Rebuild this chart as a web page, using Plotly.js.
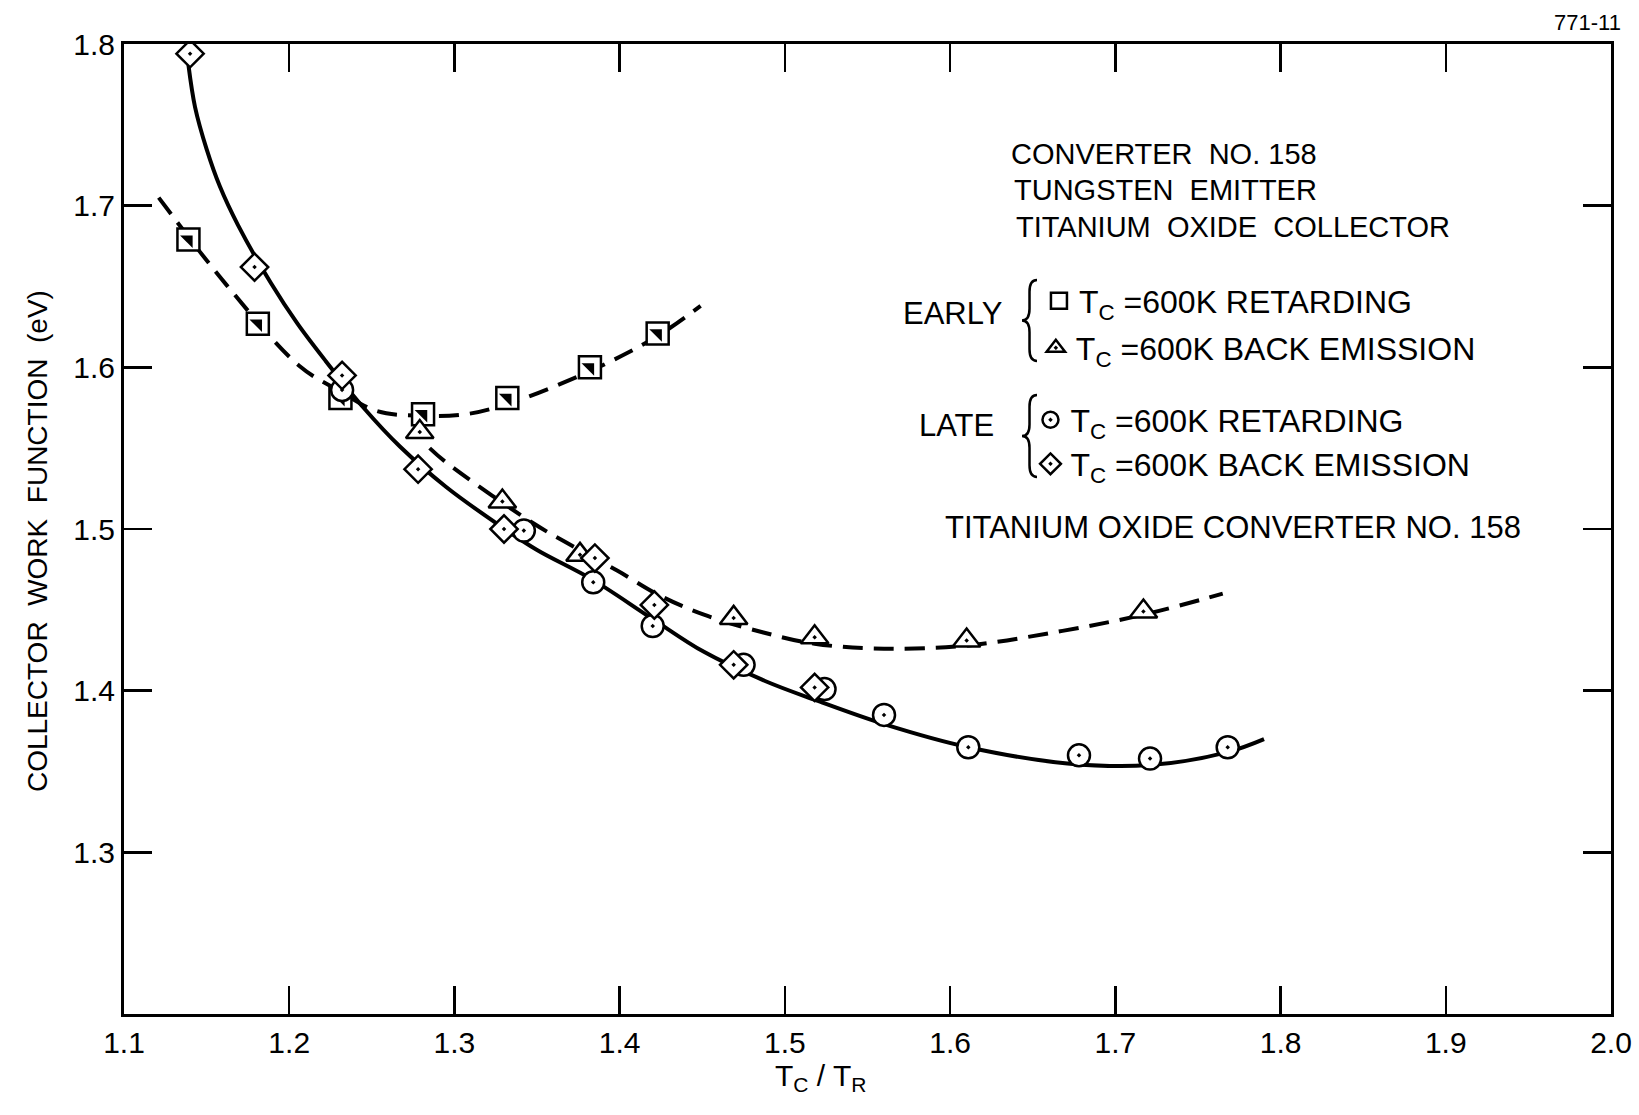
<!DOCTYPE html>
<html>
<head>
<meta charset="utf-8">
<script src="https://cdn.plot.ly/plotly-3.0.1.min.js"></script>
<style>
  html, body { margin: 0; padding: 0; background: #ffffff; }
  #chart { width: 1639px; height: 1115px; }
</style>
</head>
<body>
<div id="chart"></div>
<script>
// ---- Data (x = Tc/Tr, y = collector work function, eV) ----
// EARLY, Tc = 600K retarding (half-filled squares)
const earlyRetX = [1.139, 1.181, 1.231, 1.281, 1.332, 1.382, 1.423];
const earlyRetY = [1.679, 1.627, 1.581, 1.571, 1.581, 1.600, 1.621];
// EARLY, Tc = 600K back emission (triangles)
const earlyBEX = [1.279, 1.329, 1.376, 1.469, 1.518, 1.610, 1.717];
const earlyBEY = [1.560, 1.517, 1.484, 1.445, 1.433, 1.431, 1.449];
// LATE, Tc = 600K retarding (circles)
const lateRetX = [1.232, 1.342, 1.384, 1.420, 1.475, 1.524, 1.560, 1.611, 1.678, 1.721, 1.768];
const lateRetY = [1.586, 1.499, 1.467, 1.440, 1.416, 1.401, 1.385, 1.365, 1.360, 1.358, 1.365];
// LATE, Tc = 600K back emission (diamonds)
const lateBEX = [1.140, 1.179, 1.232, 1.278, 1.330, 1.385, 1.421, 1.469, 1.518];
const lateBEY = [1.794, 1.662, 1.595, 1.537, 1.500, 1.482, 1.453, 1.416, 1.402];

// Hand-drawn curves
const earlyRetCurveX = [1.121, 1.162, 1.206, 1.231, 1.253, 1.280, 1.307, 1.334, 1.374, 1.401, 1.424, 1.449];
const earlyRetCurveY = [1.705, 1.651, 1.601, 1.585, 1.573, 1.570, 1.571, 1.578, 1.594, 1.607, 1.620, 1.638];
const earlyBECurveX = [1.285, 1.294, 1.347, 1.374, 1.399, 1.424, 1.451, 1.487, 1.518, 1.560, 1.611, 1.668, 1.717, 1.765];
const earlyBECurveY = [1.550, 1.542, 1.504, 1.488, 1.474, 1.459, 1.447, 1.436, 1.429, 1.426, 1.428, 1.437, 1.447, 1.460];
const lateCurveX = [1.139, 1.143, 1.150, 1.158, 1.169, 1.189, 1.205, 1.222, 1.245, 1.267, 1.295, 1.329, 1.350, 1.383, 1.419, 1.451, 1.488, 1.519, 1.561, 1.611, 1.671, 1.721, 1.768, 1.790];
const lateCurveY = [1.787, 1.761, 1.735, 1.712, 1.688, 1.652, 1.627, 1.604, 1.575, 1.551, 1.526, 1.501, 1.487, 1.469, 1.445, 1.424, 1.406, 1.394, 1.379, 1.365, 1.355, 1.354, 1.362, 1.370];

// Axis ticks and text
const xTicks = [1.1, 1.2, 1.3, 1.4, 1.5, 1.6, 1.7, 1.8, 1.9, 2.0];
const xTickText = ['1.1', '1.2', '1.3', '1.4', '1.5', '1.6', '1.7', '1.8', '1.9', '2.0'];
const yTicks = [1.3, 1.4, 1.5, 1.6, 1.7, 1.8];
const yTickText = ['1.3', '1.4', '1.5', '1.6', '1.7', '1.8'];
const legendLabels = [
  'T<sub>C</sub> =600K RETARDING',
  'T<sub>C</sub> =600K BACK EMISSION',
  'T<sub>C</sub> =600K RETARDING',
  'T<sub>C</sub> =600K BACK EMISSION'
];
const headerLines = ['CONVERTER  NO. 158', 'TUNGSTEN  EMITTER', 'TITANIUM  OXIDE  COLLECTOR'];

const FONT = 'Liberation Sans, Arial, Helvetica, sans-serif';
const INK = '#000000';

const curveBase = { type: 'scatter', mode: 'lines', hoverinfo: 'skip', showlegend: false };
const traces = [
  Object.assign({}, curveBase, { x: earlyRetCurveX, y: earlyRetCurveY,
    line: { color: INK, width: 4, dash: '20px,11px', shape: 'spline', smoothing: 1 } }),
  Object.assign({}, curveBase, { x: earlyBECurveX, y: earlyBECurveY,
    line: { color: INK, width: 4, dash: '20px,11px', shape: 'spline', smoothing: 1 } }),
  Object.assign({}, curveBase, { x: lateCurveX, y: lateCurveY,
    line: { color: INK, width: 4, shape: 'spline', smoothing: 1 } }),
  // EARLY retarding: white square with black upper-right half
  { type: 'scatter', mode: 'markers', x: earlyRetX, y: earlyRetY, name: legendLabels[0], legend: 'legend',
    marker: { symbol: 'square', size: 22, color: '#ffffff', line: { color: INK, width: 2.5 } } },
  { type: 'scatter', mode: 'markers', x: earlyRetX, y: earlyRetY, showlegend: false,
    marker: { symbol: 'triangle-ne', size: 14, color: INK, line: { width: 0 } } },
  { type: 'scatter', mode: 'markers', x: earlyBEX, y: earlyBEY, name: legendLabels[1], legend: 'legend2',
    marker: { symbol: 'triangle-up-dot', size: 24, color: '#ffffff', line: { color: INK, width: 2.5 } } },
  { type: 'scatter', mode: 'markers', x: lateRetX, y: lateRetY, name: legendLabels[2], legend: 'legend3',
    marker: { symbol: 'circle-dot', size: 22, color: '#ffffff', line: { color: INK, width: 2.5 } } },
  { type: 'scatter', mode: 'markers', x: lateBEX, y: lateBEY, name: legendLabels[3], legend: 'legend4',
    marker: { symbol: 'diamond-dot', size: 21, color: '#ffffff', line: { color: INK, width: 2.5 } } }
];

function legendAt(x, y) {
  return { x: x, y: y, xanchor: 'left', yanchor: 'middle', bgcolor: 'rgba(0,0,0,0)', borderwidth: 0,
           font: { family: FONT, size: 32, color: INK }, itemwidth: 30, itemclick: false, itemdoubleclick: false };
}

function brace(xl, xr, yt, yb) {
  const xm = (xl + xr) / 2, ym = (yt + yb) / 2, d = 0.012;
  return 'M' + xr + ',' + yt + ' Q' + xm + ',' + yt + ' ' + xm + ',' + (yt - d) +
         ' L' + xm + ',' + (ym + d) + ' Q' + xm + ',' + ym + ' ' + xl + ',' + ym +
         ' Q' + xm + ',' + ym + ' ' + xm + ',' + (ym - d) +
         ' L' + xm + ',' + (yb + d) + ' Q' + xm + ',' + yb + ' ' + xr + ',' + yb;
}

const txt = (text, x, y, size, extra) => Object.assign({
  text: text, x: x, y: y, xref: 'paper', yref: 'paper', xanchor: 'left', yanchor: 'middle',
  showarrow: false, font: { family: FONT, size: size, color: INK }
}, extra || {});

const layout = {
  width: 1639, height: 1115,
  paper_bgcolor: '#ffffff', plot_bgcolor: '#ffffff',
  margin: { l: 124, r: 28, t: 44, b: 101 },
  font: { family: FONT, color: INK },
  xaxis: {
    range: [1.1, 2.0], tickmode: 'array', tickvals: xTicks, ticktext: xTickText,
    ticks: 'inside', ticklen: 28, tickwidth: 2.5, tickcolor: INK,
    showline: true, linewidth: 3, linecolor: INK, mirror: 'ticks',
    showgrid: false, zeroline: false,
    tickfont: { family: FONT, size: 30, color: INK }
  },
  yaxis: {
    range: [1.2, 1.8], tickmode: 'array', tickvals: yTicks, ticktext: yTickText,
    ticks: 'inside', ticklen: 28, tickwidth: 2.5, tickcolor: INK,
    showline: true, linewidth: 3, linecolor: INK, mirror: 'ticks',
    showgrid: false, zeroline: false,
    tickfont: { family: FONT, size: 30, color: INK }
  },
  legend: legendAt(0.6153, 0.735),
  legend2: legendAt(0.6132, 0.6866),
  legend3: legendAt(0.6096, 0.6124),
  legend4: legendAt(0.6096, 0.567),
  shapes: [
    { type: 'path', xref: 'paper', yref: 'paper', path: brace(0.6039, 0.614, 0.7567, 0.6732),
      line: { color: INK, width: 2.5 } },
    { type: 'path', xref: 'paper', yref: 'paper', path: brace(0.6039, 0.614, 0.6381, 0.5536),
      line: { color: INK, width: 2.5 } }
  ],
  annotations: [
    txt(headerLines[0], 0.595, 0.8869, 29),
    txt(headerLines[1], 0.5971, 0.8500, 29),
    txt(headerLines[2], 0.5985, 0.8115, 29),
    txt('EARLY', 0.5225, 0.7221, 31),
    txt('LATE', 0.533, 0.6068, 31),
    txt('TITANIUM OXIDE CONVERTER NO. 158', 0.5507, 0.5011, 31),
    txt('771-11', 1.008, 1.022, 22, { xanchor: 'right' }),
    txt('T<sub>C</sub> / T<sub>R</sub>', 0.4685, -0.065, 30, { xanchor: 'center' }),
    txt('COLLECTOR  WORK  FUNCTION  (eV)', -0.0585, 0.4876, 28, { xanchor: 'center', textangle: -90 })
  ],
  showlegend: true
};

Plotly.newPlot('chart', traces, layout, { displayModeBar: false, staticPlot: true });
</script>
</body>
</html>
